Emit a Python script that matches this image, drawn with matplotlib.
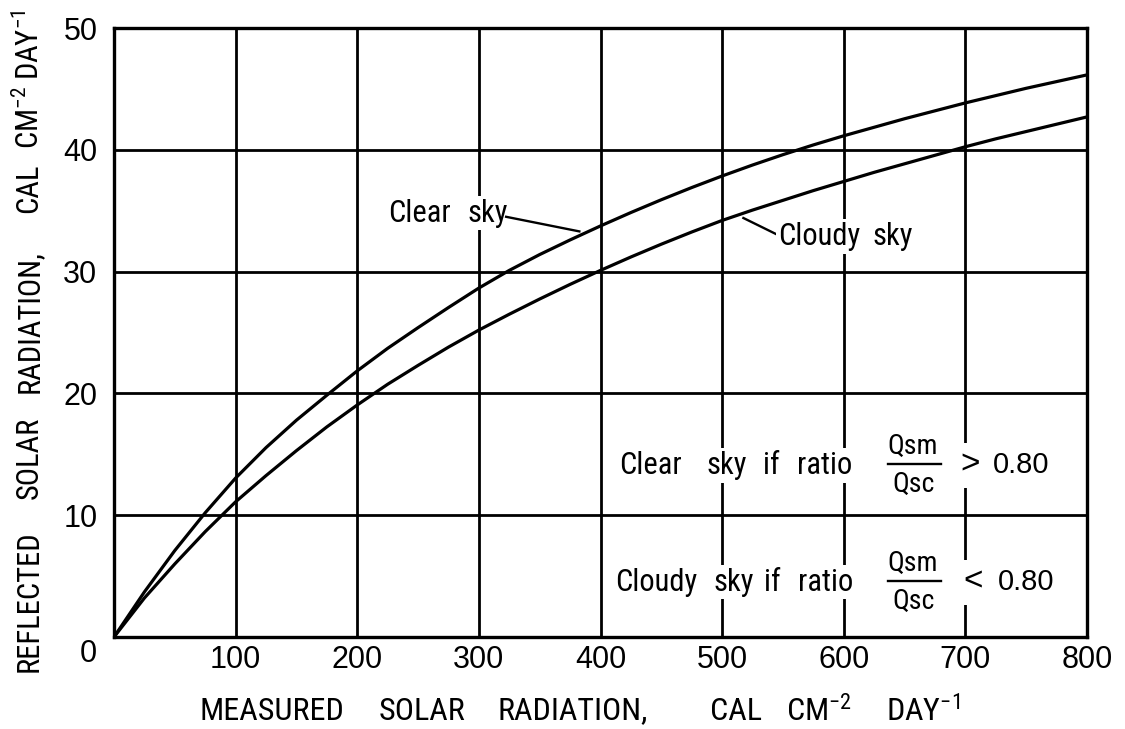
import matplotlib
matplotlib.use("Agg")
import matplotlib.pyplot as plt
from matplotlib import font_manager
from matplotlib.transforms import ScaledTranslation

# Measured solar radiation (cal cm^-2 day^-1)
measured = [0, 25, 50, 75, 100, 125, 150, 175, 200, 225, 250, 275, 300,
            325, 350, 375, 400, 425, 450, 475, 500, 525, 550, 575, 600,
            625, 650, 675, 700, 725, 750, 775, 800]
# Reflected solar radiation (cal cm^-2 day^-1)
reflected_clear = [0, 3.7, 7.1, 10.2, 13.05, 15.55, 17.8, 19.85, 21.85,
                   23.7, 25.4, 27.05, 28.65, 30.1, 31.4, 32.6, 33.75,
                   34.85, 35.9, 36.9, 37.85, 38.75, 39.6, 40.4, 41.15,
                   41.85, 42.55, 43.2, 43.85, 44.45, 45.05, 45.6, 46.15]
reflected_cloudy = [0, 3.2, 6.0, 8.65, 11.1, 13.25, 15.3, 17.25, 19.05,
                    20.75, 22.3, 23.8, 25.2, 26.5, 27.75, 28.95, 30.1,
                    31.2, 32.25, 33.25, 34.2, 35.05, 35.85, 36.65, 37.4,
                    38.15, 38.85, 39.55, 40.25, 40.9, 41.5, 42.1, 42.7]

x_ticks = [100, 200, 300, 400, 500, 600, 700, 800]
y_ticks = [0, 10, 20, 30, 40, 50]
threshold = 0.80

available = {f.name for f in font_manager.fontManager.ttflist}
TXT = next((f for f in ["Roboto Condensed", "Liberation Sans Narrow",
                        "Liberation Sans"] if f in available), "DejaVu Sans")
NUM = "Liberation Sans" if "Liberation Sans" in available else "DejaVu Sans"
plt.rcParams["font.family"] = [TXT, "DejaVu Sans"]
plt.rcParams["mathtext.fontset"] = "custom"
plt.rcParams["mathtext.rm"] = TXT
plt.rcParams["mathtext.default"] = "regular"

W, H = 1125, 729
fig = plt.figure(figsize=(W / 100, H / 100), dpi=100)
ax = fig.add_axes([114 / W, 1 - 637 / H, (1087 - 114) / W, (637 - 28) / H])
ax.set_xlim(0, 800)
ax.set_ylim(0, 50)

# grid
for xv in x_ticks[:-1]:
    ax.axvline(xv, color="black", lw=2.0, zorder=1)
for yv in y_ticks[1:-1]:
    ax.axhline(yv, color="black", lw=2.0, zorder=1)
for s in ax.spines.values():
    s.set_linewidth(2.4)

ax.plot(measured, reflected_clear, color="black", lw=2.3, zorder=3)
ax.plot(measured, reflected_cloudy, color="black", lw=2.3, zorder=3)

ax.set_xticks(x_ticks)
ax.set_xticklabels([str(v) for v in x_ticks], family=NUM, fontsize=22)
ax.set_yticks(y_ticks)
ax.set_yticklabels([str(v) for v in y_ticks], family=NUM, fontsize=22)
ax.tick_params(length=0)
ax.tick_params(axis="x", pad=6)
ax.tick_params(axis="y", pad=12)
zero_lbl = ax.get_yticklabels()[0]
zero_lbl.set_transform(zero_lbl.get_transform() +
                       ScaledTranslation(0, -14 / 100, fig.dpi_scale_trans))

white = dict(facecolor="white", edgecolor="none", pad=2)
fs = 22

# curve labels with leader lines
ax.text(251, 34.8, "Clear", fontsize=fs, ha="center", va="center", bbox=white, zorder=4)
ax.text(307, 34.8, "sky", fontsize=fs, ha="center", va="center", bbox=white, zorder=4)
ax.plot([322.4, 382.6], [34.5, 33.3], color="black", lw=1.7, zorder=4)
ax.plot([517.5, 546], [34.4, 33.0], color="black", lw=1.7, zorder=4)
ax.text(580, 32.9, "Cloudy", fontsize=fs, ha="center", va="center", bbox=white, zorder=4)
ax.text(640, 32.9, "sky", fontsize=fs, ha="center", va="center", bbox=white, zorder=4)

# classification rule
rows = [
    (14.1, ["Clear", "sky", "if", "ratio"], [440.8, 503.7, 540.7, 583.9], ">", 703.5, 722.9),
    (4.5, ["Cloudy", "sky", "if", "ratio"], [446.0, 509.3, 541.0, 584.7], "<", 706.0, 727.0),
]
for yc, words, xs, sign, x_sign, x_num in rows:
    for w, xw in zip(words, xs):
        ax.text(xw, yc, w, fontsize=fs, ha="center", va="center", bbox=white, zorder=4)
    ax.text(657, yc + 1.55, "Qsm", fontsize=20, ha="center", va="center", zorder=4)
    ax.text(657, yc - 1.55, "Qsc", fontsize=20, ha="center", va="center", zorder=4)
    ax.plot([636, 680], [yc + 0.1, yc + 0.1], color="black", lw=1.7, zorder=4)
    ax.text(x_sign, yc, sign, fontsize=24, family=NUM, ha="center", va="center",
            bbox=dict(facecolor="white", edgecolor="none", pad=5), zorder=4)
    ax.text(x_num, yc, f"{threshold:.2f}", fontsize=21, family=NUM,
            ha="left", va="center", zorder=4)

# axis titles, word by word with wide spacing
x_words = ["MEASURED", "SOLAR", "RADIATION,", "CAL", "CM$^{-2}$", "DAY$^{-1}$"]
x_word_px = [271.5, 421.5, 572.5, 736, 818.5, 923.5]
for w, px in zip(x_words, x_word_px):
    fig.text(px / W, 1 - 711 / H, w, fontsize=23, ha="center", va="center")

y_words = ["REFLECTED", "SOLAR", "RADIATION,", "CAL", "CM$^{-2}$", "DAY$^{-1}$"]
y_word_px = [601, 458, 322, 188, 117, 45]
for w, py in zip(y_words, y_word_px):
    fig.text(29 / W, 1 - py / H, w, fontsize=22, ha="center", va="center",
             rotation=90)

fig.savefig("out.png", dpi=100, facecolor="white")
